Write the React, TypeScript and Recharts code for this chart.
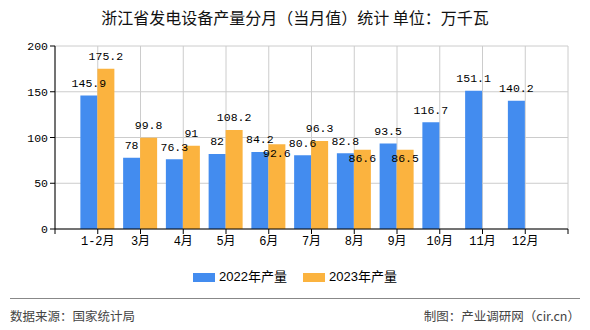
import React from 'react';
import { BarChart, Bar, XAxis, YAxis, CartesianGrid, LabelList } from 'recharts';

const categories = ['1-2月', '3月', '4月', '5月', '6月', '7月', '8月', '9月', '10月', '11月', '12月'];
const values2022 = [145.9, 78, 76.3, 82, 84.2, 80.6, 82.8, 93.5, 116.7, 151.1, 140.2];
const values2023: (number | null)[] = [175.2, 99.8, 91, 108.2, 92.6, 96.3, 86.6, 86.5, null, null, null];
const yTicks = [0, 50, 100, 150, 200];
const seriesNames = ['2022年产量', '2023年产量'];
const seriesColors = ['#438CEF', '#FBB33F'];

const data = categories.map((c, i) => ({ x: i + 1, name: c, v2022: values2022[i], v2023: values2023[i] }));
const xTicks = Array.from({ length: categories.length + 2 }, (_, i) => i);

const LABEL_FONT = '"Liberation Mono", "DejaVu Sans Mono", monospace';

const getBox = (p: any) => {
  const vb = p.viewBox || {};
  return {
    x: p.x ?? vb.x,
    y: p.y ?? vb.y,
    width: p.width ?? vb.width,
    height: p.height ?? vb.height,
  };
};

const Label2022 = (p: any) => {
  if (p.value == null) return null;
  const b = getBox(p);
  return (
    <text x={b.x + b.width / 2} y={b.y - 12} textAnchor="middle" dominantBaseline="central"
      fontSize={11.5} fontFamily={LABEL_FONT} fill="#000">{p.value}</text>
  );
};

const Label2023 = (p: any) => {
  if (p.value == null) return null;
  const b = getBox(p);
  const idx = p.index;
  const other = idx != null ? values2022[idx] : null;
  const pxPerUnit = b.height / p.value;
  let cy = b.y - 12;
  if (other != null && Math.abs(other - p.value) * pxPerUnit < 12) {
    cy = b.y + 9;
  }
  return (
    <text x={b.x + b.width / 2} y={cy} textAnchor="middle" dominantBaseline="central"
      fontSize={11.5} fontFamily={LABEL_FONT} fill="#000">{p.value}</text>
  );
};

export default function App() {
  return (
    <div style={{ position: 'absolute', left: 0, top: 0, width: 590, height: 330, background: '#fff', overflow: 'hidden' }}>
      <div style={{ position: 'absolute', left: 0, top: 7, width: 590, textAlign: 'center', fontSize: 16, fontFamily: '"Noto Sans CJK SC", sans-serif', color: '#111', lineHeight: '20px' }}>
        浙江省发电设备产量分月（当月值）统计 单位：万千瓦
      </div>
      <BarChart width={590} height={330} data={data} margin={{ top: 46, right: 22, bottom: 71, left: 5 }}
        barGap={0}>
        <CartesianGrid stroke="#cccccc" strokeWidth={1} verticalValues={xTicks} horizontalValues={yTicks} />
        <XAxis type="number" dataKey="x" domain={[0, categories.length + 1]} ticks={xTicks} interval={0}
          allowDecimals={false} height={30}
          tickFormatter={(v: number) => categories[v - 1] ?? ''}
          axisLine={{ stroke: '#000' }} tickLine={{ stroke: '#000' }} tickSize={5}
          tick={{ fontSize: 12, fill: '#000', fontFamily: '"Liberation Mono", "Noto Sans CJK SC", monospace' }} />
        <YAxis domain={[0, 200]} ticks={yTicks} width={50} interval={0}
          axisLine={{ stroke: '#000' }} tickLine={{ stroke: '#000' }} tickSize={5}
          tick={{ fontSize: 11.5, fill: '#000', fontFamily: LABEL_FONT }} />
        <Bar dataKey="v2022" name={seriesNames[0]} fill={seriesColors[0]} barSize={17} isAnimationActive={false}>
          <LabelList dataKey="v2022" content={Label2022} />
        </Bar>
        <Bar dataKey="v2023" name={seriesNames[1]} fill={seriesColors[1]} barSize={17} isAnimationActive={false}>
          <LabelList dataKey="v2023" content={Label2023} />
        </Bar>
      </BarChart>
      <div style={{ position: 'absolute', left: 0, top: 268, width: 590, display: 'flex', justifyContent: 'center', alignItems: 'center', gap: 16 }}>
        {seriesNames.map((n, i) => (
          <div key={n} style={{ display: 'flex', alignItems: 'center' }}>
            <span style={{ display: 'inline-block', width: 22, height: 9, background: seriesColors[i], marginRight: 4 }} />
            <span style={{ fontSize: 13, lineHeight: '18px', fontFamily: '"Liberation Sans", "Noto Sans CJK SC", sans-serif', color: '#000' }}>{n}</span>
          </div>
        ))}
      </div>
      <div style={{ position: 'absolute', left: 10, top: 298, width: 570, height: 0, borderTop: '1px solid #888' }} />
      <div style={{ position: 'absolute', left: 10, top: 307, fontSize: 12.5, fontFamily: '"Noto Sans CJK SC", sans-serif', color: '#444', lineHeight: '18px' }}>
        数据来源：国家统计局
      </div>
      <div style={{ position: 'absolute', right: 10, top: 307, fontSize: 12.5, fontFamily: '"Noto Sans CJK SC", sans-serif', color: '#444', lineHeight: '18px' }}>
        制图：产业调研网（cir.cn）
      </div>
    </div>
  );
}
